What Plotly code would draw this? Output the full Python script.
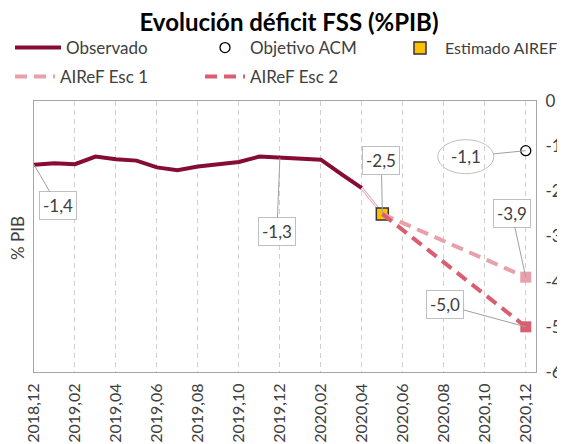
import plotly.graph_objects as go

# ---------------- data ----------------
months = ["2018,12", "2019,01", "2019,02", "2019,03", "2019,04", "2019,05", "2019,06",
          "2019,07", "2019,08", "2019,09", "2019,10", "2019,11", "2019,12", "2020,01",
          "2020,02", "2020,03", "2020,04", "2020,05", "2020,06", "2020,07", "2020,08",
          "2020,09", "2020,10", "2020,11", "2020,12"]
tick_months = months[::2]

obs_months = months[0:17]
obs_values = [-1.41, -1.38, -1.40, -1.23, -1.29, -1.32, -1.47, -1.53, -1.45, -1.41,
              -1.35, -1.23, -1.26, -1.28, -1.30, -1.62, -1.93]

est_months = ["2020,05"]
est_values = [-2.5]

obj_months = ["2020,12"]
obj_values = [-1.1]

esc_months = ["2020,05", "2020,12"]
esc1_values = [-2.5, -3.9]
esc2_values = [-2.5, -5.0]

y_ticks = [0, -1, -2, -3, -4, -5, -6]
y_tick_text = ["0", "-1", "-2", "-3", "-4", "-5", "-6"]

# ---------------- style ----------------
FONT = "Lato, 'Open Sans', sans-serif"
TXT = "#404040"
C_OBS = "#870C35"
C_ESC1 = "#E8A0AA"
C_ESC2 = "#D95F70"
C_EST = "#FFC000"

W, H = 565, 444
ML, MR, MT, MB = 26, 37, 93, 80
PW, PH = W - ML - MR, H - MT - MB

fig = go.Figure()

fig.add_trace(go.Scatter(
    x=obs_months, y=obs_values, mode="lines", name="Observado",
    line=dict(color=C_OBS, width=4), legend="legend"))

# thin connector between last observed value and the estimate
fig.add_trace(go.Scatter(
    x=[obs_months[-1], est_months[0]], y=[obs_values[-1], est_values[0]],
    mode="lines", line=dict(color="#E3B3BD", width=3), showlegend=False, hoverinfo="skip"))
fig.add_trace(go.Scatter(
    x=[obs_months[-1], est_months[0]], y=[obs_values[-1], est_values[0]],
    mode="lines", line=dict(color="white", width=1), showlegend=False, hoverinfo="skip"))

fig.add_trace(go.Scatter(
    x=obj_months, y=obj_values, mode="markers", name="Objetivo ACM",
    marker=dict(symbol="circle", size=10, color="white", line=dict(color="black", width=1.3)),
    legend="legend2"))

fig.add_trace(go.Scatter(
    x=est_months, y=est_values, mode="markers", name="Estimado AIREF",
    marker=dict(symbol="square", size=12, color=C_EST, line=dict(color="#333333", width=1.5)),
    legend="legend3"))

fig.add_trace(go.Scatter(
    x=esc_months, y=esc1_values, mode="lines", name="AIReF Esc 1",
    line=dict(color=C_ESC1, width=4, dash="12px,7px"), legend="legend4"))
fig.add_trace(go.Scatter(
    x=esc_months[-1:], y=esc1_values[-1:], mode="markers", showlegend=False,
    marker=dict(symbol="square", size=11, color=C_ESC1)))

fig.add_trace(go.Scatter(
    x=esc_months, y=esc2_values, mode="lines", name="AIReF Esc 2",
    line=dict(color=C_ESC2, width=4, dash="12px,7px"), legend="legend5"))
fig.add_trace(go.Scatter(
    x=esc_months[-1:], y=esc2_values[-1:], mode="markers", showlegend=False,
    marker=dict(symbol="square", size=11, color=C_ESC2)))


def leg(x, y, iw, fs=17):
    return dict(xref="container", yref="container", x=x / W, y=1 - y / H,
                xanchor="left", yanchor="middle", orientation="h",
                itemwidth=iw, font=dict(family=FONT, size=fs, color=TXT),
                bgcolor="rgba(0,0,0,0)", borderwidth=0, tracegroupgap=0)


fig.update_layout(
    width=W, height=H,
    margin=dict(l=ML, r=MR, t=MT, b=MB, autoexpand=False),
    paper_bgcolor="white", plot_bgcolor="white",
    font=dict(family=FONT, color=TXT),
    title=dict(text="<b>Evolución déficit FSS (%PIB)</b>", x=281 / W, xanchor="center",
               y=1 - 15 / H, yanchor="middle", font=dict(family=FONT, size=24, color="black")),
    legend=leg(2, 40, 46),
    legend2=leg(192, 40, 40),
    legend3=leg(387, 40, 40, fs=16),
    legend4=leg(2, 69, 40),
    legend5=leg(192, 69, 40),
)

fig.update_xaxes(
    type="category", categoryorder="array", categoryarray=months,
    range=[0, 24.5], tickmode="array", tickvals=tick_months, ticktext=tick_months,
    tickangle=-90, tickfont=dict(family=FONT, size=16, color=TXT), ticklabelstandoff=4,
    showgrid=True, gridcolor="#D0D0D0", griddash="5px,4px", gridwidth=1,
    showline=True, linecolor="#A6A6A6", linewidth=1.3, mirror=True,
    ticks="", zeroline=False)

fig.update_yaxes(
    side="right", range=[-6, 0], tickmode="array", tickvals=y_ticks, ticktext=y_tick_text,
    tickfont=dict(family=FONT, size=17, color=TXT), ticklabelstandoff=5,
    showgrid=False, zeroline=False, showline=True, linecolor="#A6A6A6", linewidth=1.3,
    mirror=True, ticks="")

fig.add_annotation(xref="paper", yref="paper", x=(9 - ML) / PW, y=1 - (230 - MT) / PH,
                   xanchor="center", yanchor="middle",
                   text="% PIB", textangle=-90, showarrow=False,
                   font=dict(family=FONT, size=17, color=TXT))

ann_font = dict(family=FONT, size=17, color=TXT)


def label(xv, yv, txt, ax, ay, boxed=True, sstand=0):
    fig.add_annotation(
        x=xv, y=yv, xref="x", yref="y", text=txt, showarrow=True, arrowhead=0,
        arrowwidth=1, arrowcolor="#A0A0A0", ax=ax, ay=ay, standoff=0,
        startstandoff=sstand, font=ann_font,
        bgcolor="white" if boxed else "rgba(0,0,0,0)",
        bordercolor="#BFBFBF" if boxed else "rgba(0,0,0,0)", borderwidth=1, borderpad=3)


label(obs_months[0], obs_values[0], "-1,4", 24, 41)
label(obs_months[12], obs_values[12], "-1,3", -3, 74)
label(est_months[0], est_values[0], "-2,5", -1, -53)
label(esc_months[-1], esc1_values[-1], "-3,9", -14, -64)
label(esc_months[-1], esc2_values[-1], "-5,0", -81, -22)
label(obj_months[0], obj_values[0], "-1,1", -60, 6, boxed=False, sstand=9)

# ellipse around the -1,1 label
fig.add_shape(type="circle", xref="x", yref="y", xsizemode="pixel", ysizemode="pixel",
              xanchor=24, yanchor=obj_values[0], x0=-88, x1=-32, y0=-23, y1=11,
              line=dict(color="#BFBFBF", width=1), fillcolor="white", layer="below")

fig.write_html("out.html")
